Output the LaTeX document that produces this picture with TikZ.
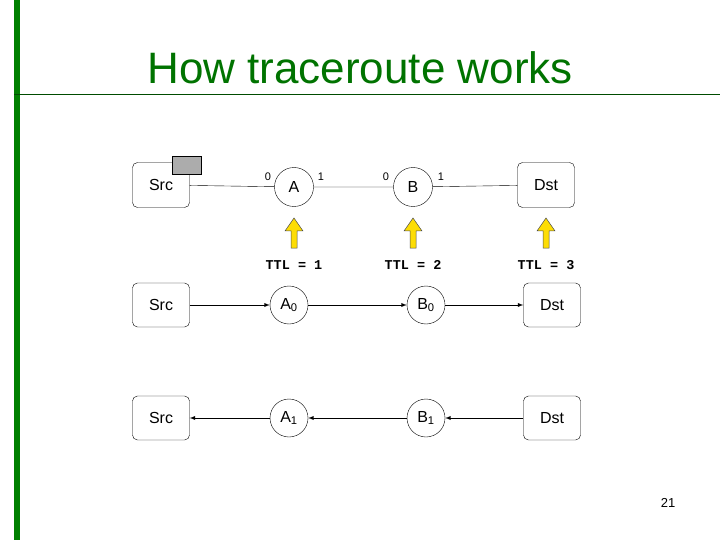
\documentclass[tikz,border=0pt]{standalone}
\usepackage{fontspec}
\setmainfont{Liberation Sans}
\newfontfamily\ttl{Liberation Mono}
\begin{document}
\begin{tikzpicture}[x=1pt,y=-1pt,
  box/.style={draw,rounded corners=5pt,minimum width=57pt,minimum height=45pt,font=\fontsize{16}{18}\selectfont,inner sep=0pt},
  rtr/.style={draw,circle,minimum size=39pt,font=\fontsize{16}{18}\selectfont,inner sep=0pt},
  port/.style={font=\fontsize{11}{12}\selectfont},
  up/.style={draw=black!70,fill=yellow!80!orange,line width=0.5pt},
  ttlf/.style={font=\ttl\bfseries\fontsize{13.5}{14}\selectfont},
  arr/.style={line width=0.9pt,-latex}]
\useasboundingbox (0,0) rectangle (720,540);
\fill[green!50!black] (14,0) rectangle (20,540);
\draw[green!30!black,line width=0.8pt] (14,94) -- (720,94);
\node[font=\fontsize{44}{48}\selectfont,text=green!45!black] (title) at (360,68) {How traceroute works};
% row 1
\node[box] (s1) at (161,185) {Src};
\draw[fill=gray!65] (172,156) rectangle (201,174);
\node[rtr] (a) at (294,187) {A};
\node[rtr] (b) at (413,187) {B};
\node[box] (d1) at (546,185) {Dst};
\draw (s1) -- (a) -- (b) -- (d1);
\node[port] (a0) at (268,177) {0};
\node[port] (a1) at (321,177) {1};
\node[port] (b0) at (386,177) {0};
\node[port] (b1) at (441,177) {1};
\foreach \x/\n in {294/1,413/2,546/3}{
  \draw[up] (\x-3,248) -- (\x+3,248) -- (\x+3,231) -- (\x+9,231) -- (\x,218) -- (\x-9,231) -- (\x-3,231) -- cycle;
  \node[ttlf] (t\n) at (\x,265) {TTL = \n};
}
% row 2
\node[box,minimum height=44pt] (s2) at (161,305) {Src};
\node[rtr,minimum size=38pt] (a2) at (289,305) {A\textsubscript{0}};
\node[rtr,minimum size=38pt] (b2) at (426,305) {B\textsubscript{0}};
\node[box,minimum height=44pt] (d2) at (552,305) {Dst};
\draw[arr] (s2) -- (a2);
\draw[arr] (a2) -- (b2);
\draw[arr] (b2) -- (d2);
% row 3
\node[box,minimum height=44pt] (s3) at (161,418) {Src};
\node[rtr,minimum size=38pt] (a3) at (289,418) {A\textsubscript{1}};
\node[rtr,minimum size=38pt] (b3) at (426,418) {B\textsubscript{1}};
\node[box,minimum height=44pt] (d3) at (552,418) {Dst};
\draw[arr] (d3) -- (b3);
\draw[arr] (b3) -- (a3);
\draw[arr] (a3) -- (s3);
\node[font=\fontsize{13}{14}\selectfont] (pg) at (668,503) {21};
\end{tikzpicture}
\end{document}
